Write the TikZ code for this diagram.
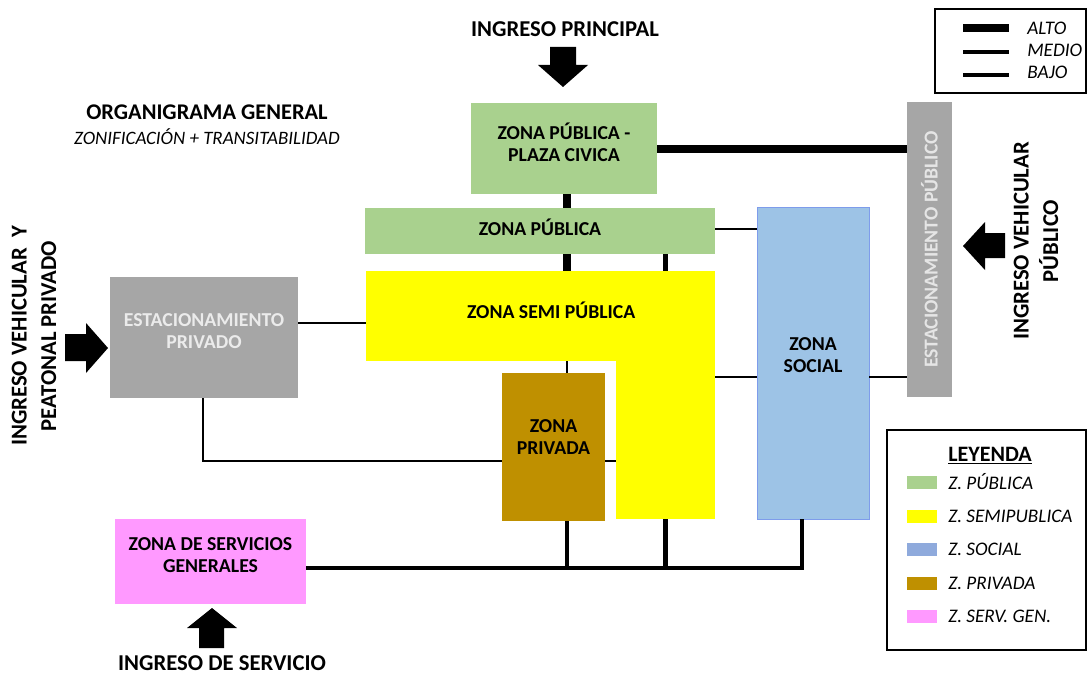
\documentclass[tikz,border=0pt]{standalone}
\usepackage{fontspec}
\setmainfont{Carlito}
\usetikzlibrary{positioning, calc}

\definecolor{verde}{HTML}{A9D18E}
\definecolor{amarillo}{HTML}{FFFF00}
\definecolor{celeste}{HTML}{9DC3E6}
\definecolor{celesteley}{HTML}{8FAADC}
\definecolor{marron}{HTML}{BF9000}
\definecolor{rosado}{HTML}{FF99FF}
\definecolor{gris}{HTML}{A6A6A6}

\begin{document}
\begin{tikzpicture}[
        x=0.75pt, y=-0.75pt,
        zona/.style={rectangle, inner sep=0pt},
        zonatxt/.style={font=\bfseries\fontsize{14.8}{16.5}\selectfont, align=center},
        rotulo/.style={font=\bfseries\fontsize{17}{22}\selectfont, align=center},
        alto/.style={line width=6pt},
        medio/.style={line width=3.2pt},
        bajo/.style={line width=2.1pt},
        flecha/.style={fill=black},
        leyenda/.style={font=\itshape\fontsize{14.4}{16}\selectfont, anchor=west, inner sep=0pt}
    ]
    \useasboundingbox (0,0) rectangle (1089,674);

    % Titles
    \node[font=\bfseries\fontsize{16.8}{20}\selectfont] (titulo) at (207,112) {ORGANIGRAMA GENERAL};
    \node[font=\itshape\fontsize{14.2}{16}\selectfont] (subtitulo) at (207,137) {ZONIFICACIÓN + TRANSITABILIDAD};

    % Zones
    \node[zona, fill=verde, minimum width=139.5pt, minimum height=68.25pt,
          label={[zonatxt, yshift=5pt]center:ZONA PÚBLICA -\\PLAZA CIVICA}] (plaza) at (564,148.5) {};
    \node[zona, fill=verde, minimum width=262.5pt, minimum height=34.5pt,
          label={[zonatxt, yshift=3pt]center:ZONA PÚBLICA}] (publica) at (540,231) {};
    \node[zona, fill=amarillo, minimum width=74.25pt, minimum height=186pt] (semileg) at (665.5,395) {};
    \node[zona, fill=amarillo, minimum width=261.75pt, minimum height=67.5pt,
          label={[zonatxt, xshift=8pt, yshift=4.5pt]center:ZONA SEMI PÚBLICA}] (semi) at (540.5,316) {};
    \node[zona, fill=marron, minimum width=77.25pt, minimum height=111pt,
          label={[zonatxt, yshift=7.5pt]center:ZONA\\PRIVADA}] (privada) at (553.5,447) {};
    \node[zona, fill=celeste, draw=celeste!80!blue, line width=0.5pt, minimum width=84pt, minimum height=234pt,
          label={[zonatxt, yshift=6pt]center:ZONA\\SOCIAL}] (social) at (813,363) {};
    \node[zona, fill=gris, minimum width=33.75pt, minimum height=221.25pt,
          label={[zonatxt, text=white!90!black, rotate=90]center:ESTACIONAMIENTO PÚBLICO}] (estpub) at (929.5,249.5) {};
    \node[zona, fill=gris, minimum width=141pt, minimum height=90.75pt,
          label={[zonatxt, text=white!92!black, yshift=5pt]center:ESTACIONAMIENTO\\PRIVADO}] (estpriv) at (204,337.5) {};
    \node[zona, fill=rosado, minimum width=143.25pt, minimum height=63.75pt,
          label={[zonatxt, yshift=5pt]center:ZONA DE SERVICIOS\\GENERALES}] (serv) at (210.5,561.5) {};

    % Connectors
    \draw[alto] (plaza.east) -- (plaza.east -| estpub.west);
    \draw[alto] (567,0 |- plaza.south) -- (567,0 |- publica.north);
    \draw[alto] (567,0 |- publica.south) -- (567,0 |- semi.north);
    \draw[medio] (semileg.north |- publica.south) -- (semileg.north);
    \draw[bajo] (publica.east |- 0,229) -- (social.west |- 0,229);
    \draw[bajo] (semileg.east |- 0,377) -- (social.west |- 0,377);
    \draw[bajo] (social.east |- 0,377) -- (estpub.west |- 0,377);
    \draw[bajo] (estpriv.east |- 0,323) -- (semi.west |- 0,323);
    \draw[bajo] (203,0 |- estpriv.south) |- (privada.west |- 0,461);
    \draw[bajo] (567,0 |- semi.south) -- (567,0 |- privada.north);
    \draw[bajo] (privada.east |- 0,461) -- (semileg.west |- 0,461);
    \draw[medio] (serv.east |- 0,568) -| (802,0 |- social.south);
    \draw[medio] (567,0 |- privada.south) -- (567,568);
    \draw[medio] (semileg.south) -- (semileg.south |- 0,568);

    % Entrances
    \node[rotulo] (ingprin) at (565,29) {INGRESO PRINCIPAL};
    \fill[flecha] (550,47) -- (576,47) -- (576,65) -- (588,65) -- (563,87) -- (538,65) -- (550,65) -- cycle;

    \node[rotulo, rotate=90] (ingpriv) at (34,336) {INGRESO VEHICULAR\ \ Y\\PEATONAL PRIVADO};
    \fill[flecha] (65,334) -- (86,334) -- (86,323) -- (108,348) -- (86,373) -- (86,361) -- (65,361) -- cycle;

    \node[rotulo] (ingpub) [rotate=90] at (1036,241) {INGRESO VEHICULAR\\PÚBLICO};
    \fill[flecha] (1005,233) -- (985,233) -- (985,222) -- (963,246) -- (985,270) -- (985,258) -- (1005,258) -- cycle;

    \node[rotulo, inner sep=1pt] (ingserv) at (222,663) {INGRESO DE SERVICIO};
    \fill[flecha] (199,648) -- (199,628) -- (187,628) -- (212,608) -- (237,628) -- (224,628) -- (224,648) -- cycle;

    % Legend (lines)
    \draw[line width=0.8pt] (935,9) rectangle (1086,93);
    \draw[line width=6.5pt] (963,28) -- (1009,28);
    \draw[line width=3.4pt] (963,52) -- (1009,52);
    \draw[line width=2.4pt] (963,75) -- (1009,75);
    \node[leyenda] (alto) at (1027,28) {ALTO};
    \node[leyenda] (medio) at (1027,50) {MEDIO};
    \node[leyenda] (bajo) at (1027,72) {BAJO};

    % Legend (zones)
    \draw[line width=0.8pt] (887,430) rectangle (1086,650);
    \node[font=\bfseries\fontsize{16.5}{18}\selectfont] (leyenda) at (990,456) {\underline{LEYENDA}};
    \foreach \y/\col/\txt [count=\i] in {482/verde/Z. PÚBLICA, 516/amarillo/Z. SEMIPUBLICA,
            549/celesteley/Z. SOCIAL, 583/marron/Z. PRIVADA, 616/rosado/Z. SERV. GEN.} {
        \fill[\col] (907,\y-6.5) rectangle (937,\y+6.5);
        \node[leyenda] (ley\i) at (948,\y) {\txt};
    }
\end{tikzpicture}
\end{document}
